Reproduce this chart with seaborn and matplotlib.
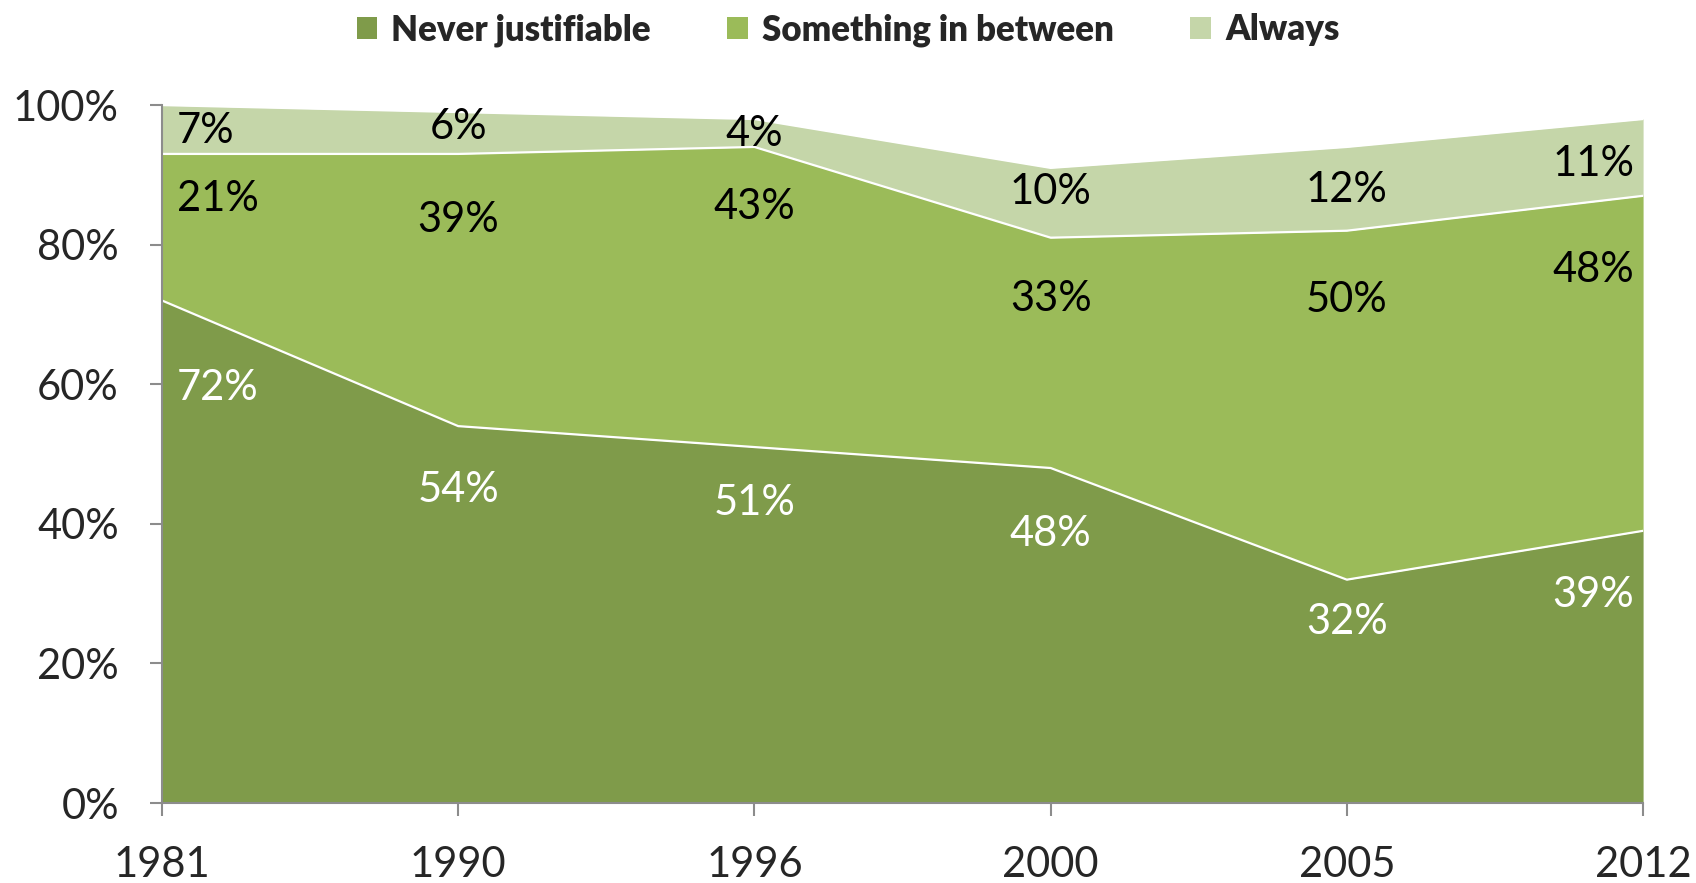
import numpy as np
import pandas as pd
import seaborn as sns
import matplotlib.pyplot as plt
from matplotlib.ticker import PercentFormatter
from matplotlib.patches import Patch

# data
years = ["1981", "1990", "1996", "2000", "2005", "2012"]
never = [72, 54, 51, 48, 32, 39]
between = [21, 39, 43, 33, 50, 48]
always = [7, 6, 4, 10, 12, 11]

series_names = ["Never justifiable", "Something in between", "Always"]
colors = ["#7F9B4A", "#9BBB59", "#C5D6A9"]
label_colors = ["white", "black", "black"]

# where the value labels sit (y in %), as in the original
never_label_y = [59.5, 44.8, 43, 38.6, 26, 29.8]
between_label_y = [86.5, 83.6, 85.4, 72.2, 72.1, 76.3]
always_label_y = [96.3, 96.9, 95.8, 87.6, 87.8, 91.6]

sns.set_style("white")
plt.rcParams['font.family'] = ['Lato', 'DejaVu Sans']

df = pd.DataFrame({"year": years, "never": never, "between": between, "always": always})
df["x"] = np.arange(len(df))
df["top1"] = df["never"]
df["top2"] = df["never"] + df["between"]
df["top3"] = df["top2"] + df["always"]

fig = plt.figure(figsize=(16.96, 8.83), dpi=100)
ax = fig.add_axes([0.0955, 0.0906, 0.8733, 0.7904])

bottoms = [np.zeros(len(df)), df["top1"], df["top2"]]
tops = [df["top1"], df["top2"], df["top3"]]
for b, t, c in zip(bottoms, tops, colors):
    ax.fill_between(df["x"], b, t, color=c, linewidth=0, zorder=1)

# white borders between the bands
for col in ["top1", "top2", "top3"]:
    sns.lineplot(data=df, x="x", y=col, ax=ax, color="white", linewidth=1.6, zorder=2)

vals = [never, between, always]
label_ys = [never_label_y, between_label_y, always_label_y]
n = len(years)
for v, ly, lc in zip(vals, label_ys, label_colors):
    for i in range(n):
        if i == 0:
            xi, ha = 0.05, "left"
        elif i == n - 1:
            xi, ha = n - 1 - 0.03, "right"
        else:
            xi, ha = i, "center"
        ax.text(xi, ly[i], f"{v[i]}%", ha=ha, va="center", fontsize=30,
                color=lc, zorder=3)

ax.set_xlim(0, n - 1)
ax.set_ylim(0, 100)
ax.set_xticks(range(n))
ax.set_xticklabels(years)
ax.set_yticks(range(0, 101, 20))
ax.yaxis.set_major_formatter(PercentFormatter(decimals=0))
ax.set_xlabel("")
ax.set_ylabel("")

for s in ["top", "right"]:
    ax.spines[s].set_visible(False)
for s in ["left", "bottom"]:
    ax.spines[s].set_color("#8C8C8C")
    ax.spines[s].set_linewidth(1.5)
    ax.spines[s].set_zorder(4)

ax.tick_params(axis="y", which="major", direction="out", length=9, width=1.5,
               color="#8C8C8C", labelsize=30, pad=22, left=True)
ax.tick_params(axis="x", which="major", direction="out", length=9, width=1.5,
               color="#8C8C8C", labelsize=30, pad=22, bottom=True)

handles = [Patch(facecolor=c, edgecolor="none") for c in colors]
fig.legend(handles, series_names, loc="center", bbox_to_anchor=(0.5, 0.966), ncol=3,
           frameon=False, prop={"weight": "heavy", "size": 25}, handlelength=0.6,
           handleheight=0.6, handletextpad=0.4, columnspacing=2.2)

fig.savefig("out.png", dpi=100)
